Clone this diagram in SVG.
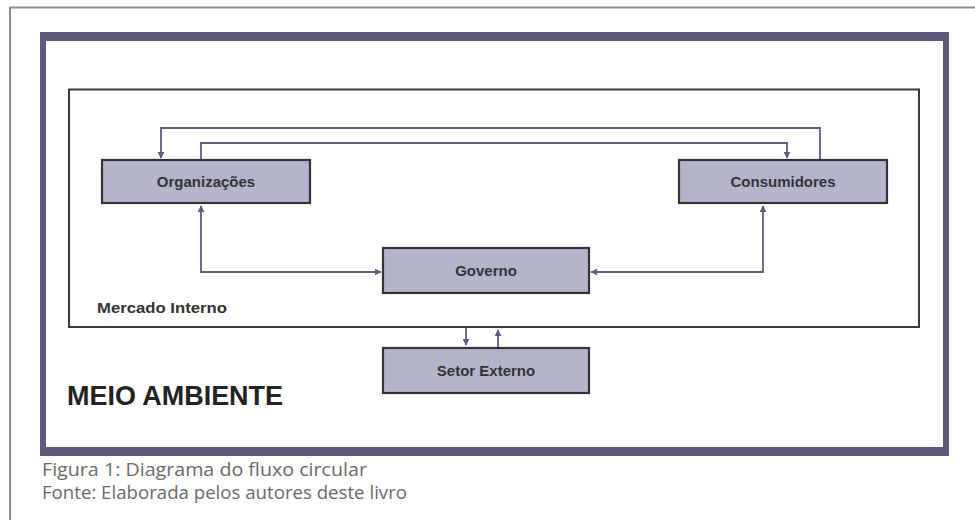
<svg xmlns="http://www.w3.org/2000/svg" width="975" height="520" viewBox="0 0 975 520">
<defs>
<style>
.node rect{fill:#b4b4cb;stroke:#333333;stroke-width:2.2}
.node text{font-family:"Liberation Sans",Arial,sans-serif;font-weight:bold;font-size:15px;fill:#333333;text-anchor:middle}
.conn{fill:none;stroke:#5c5c85;stroke-width:1.8}
.cap{font-family:"Open Sans","Noto Sans",sans-serif;font-size:17.5px;fill:#6a6a6a}
</style>
<marker id="a" viewBox="0 0 10 10" refX="9" refY="5" markerWidth="7" markerHeight="7" orient="auto-start-reverse" markerUnits="userSpaceOnUse">
<path d="M0,0 L10,5 L0,10 z" fill="#5c5c85"/>
</marker>
</defs>
<rect width="975" height="520" fill="#ffffff"/>
<path d="M10,520 V7.5 H975" fill="none" stroke="#8c8c8c" stroke-width="2"/>
<path fill="#5b5b7c" fill-rule="evenodd" d="M40,32 H949 V456 H40 Z M46,41 V447 H943 V41 Z"/>
<rect id="mercado" x="69" y="89.5" width="850" height="237.5" fill="none" stroke="#3a3a3a" stroke-width="2"/>
<text x="97" y="313" font-family="'Liberation Sans',Arial,sans-serif" font-weight="bold" font-size="15px" fill="#333333" textLength="130" lengthAdjust="spacingAndGlyphs">Mercado Interno</text>
<g id="connectors">
<path class="conn" d="M820,160 V128 H161 V158" marker-end="url(#a)"/>
<path class="conn" d="M201,160 V143 H787 V158" marker-end="url(#a)"/>
<path class="conn" d="M201,206 V272 H381" marker-start="url(#a)" marker-end="url(#a)"/>
<path class="conn" d="M763,206 V272 H591" marker-start="url(#a)" marker-end="url(#a)"/>
<path class="conn" d="M466,328 V345" marker-end="url(#a)"/>
<path class="conn" d="M498,347 V330" marker-end="url(#a)"/>
</g>
<g id="organizacoes" class="node">
<rect x="102" y="160" width="208" height="43"/>
<text x="206" y="187">Organizações</text>
</g>
<g id="consumidores" class="node">
<rect x="679" y="160" width="208" height="43"/>
<text x="783" y="187">Consumidores</text>
</g>
<g id="governo" class="node">
<rect x="383" y="248" width="206" height="45"/>
<text x="486" y="276">Governo</text>
</g>
<g id="setor-externo" class="node">
<rect x="383" y="348" width="206" height="45"/>
<text x="486" y="376">Setor Externo</text>
</g>
<text x="67" y="405" font-family="'Liberation Sans',Arial,sans-serif" font-weight="bold" font-size="28px" fill="#222222" textLength="216" lengthAdjust="spacingAndGlyphs">MEIO AMBIENTE</text>
<text class="cap" x="42" y="476" textLength="325" lengthAdjust="spacingAndGlyphs">Figura 1: Diagrama do fluxo circular</text>
<text class="cap" x="42" y="499" textLength="365" lengthAdjust="spacingAndGlyphs">Fonte: Elaborada pelos autores deste livro</text>
</svg>
